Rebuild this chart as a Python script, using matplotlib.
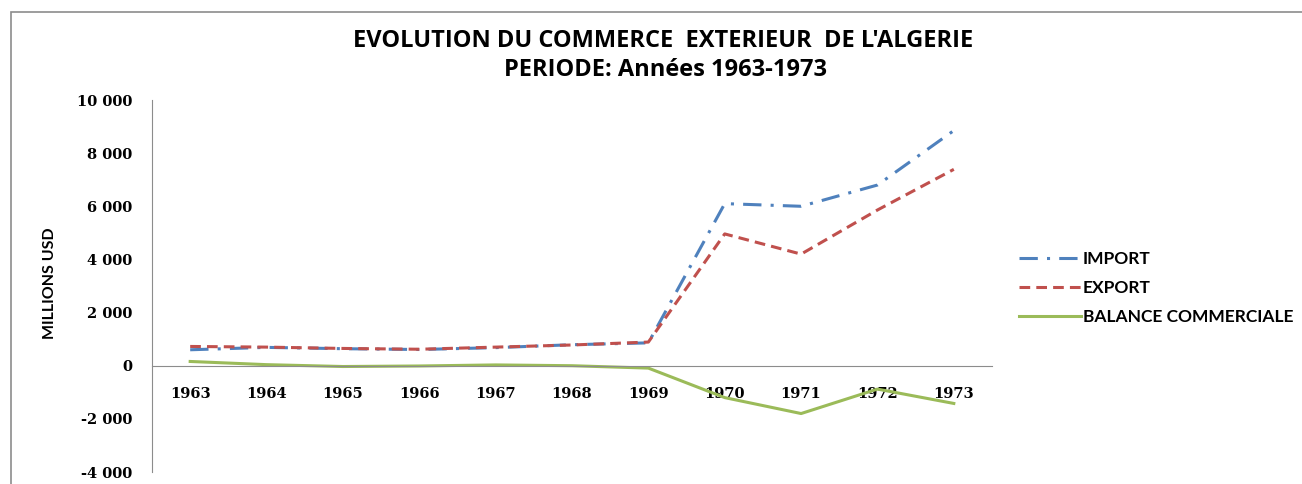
import matplotlib
matplotlib.use("Agg")
import matplotlib.pyplot as plt
from matplotlib.patches import Rectangle

# Data (millions USD)
years = ["1963", "1964", "1965", "1966", "1967", "1968", "1969", "1970", "1971", "1972", "1973"]
imports = [600, 690, 640, 610, 680, 790, 860, 6100, 6000, 6800, 8850]
exports = [725, 700, 650, 620, 700, 780, 890, 4960, 4200, 5860, 7390]
balance = [160, 40, -30, -10, 30, 0, -90, -1200, -1800, -880, -1420]

yticks = [-4000, -2000, 0, 2000, 4000, 6000, 8000, 10000]

fig = plt.figure(figsize=(13.02, 4.84), dpi=100)
fig.patch.set_facecolor("white")

# outer chart frame (only top/left edges visible in the reference)
fig.patches.append(Rectangle((11 / 1302, -0.1), 1.2, (484 - 12) / 484 + 0.1,
                             transform=fig.transFigure, fill=False,
                             edgecolor="#8c8c8c", linewidth=1.2))

ax = fig.add_axes([152 / 1302, 12 / 484, 840 / 1302, 372 / 484])

x = list(range(len(years)))
ax.plot(x, imports, color="#4F81BD", linewidth=2.2, linestyle=(0, (6, 3, 1, 3)), label="IMPORT")
ax.plot(x, exports, color="#C0504D", linewidth=2.2, linestyle=(0, (3.5, 2)), label="EXPORT")
ax.plot(x, balance, color="#9BBB59", linewidth=2.2, linestyle="-", label="BALANCE COMMERCIALE")

ax.set_xlim(-0.5, len(years) - 0.5)
ax.set_ylim(-4000, 10000)

for s in ["top", "right"]:
    ax.spines[s].set_visible(False)
ax.spines["bottom"].set_position(("data", 0))
ax.spines["bottom"].set_color("#8c8c8c")
ax.spines["left"].set_color("#8c8c8c")

ax.set_xticks(x)
ax.set_xticklabels(years, family="DejaVu Serif", fontweight="bold", fontsize=10.5)
ax.tick_params(axis="x", length=0, pad=15)

ax.set_yticks(yticks)
ax.set_yticklabels([f"{v:,}".replace(",", " ") for v in yticks],
                   family="DejaVu Serif", fontweight="bold", fontsize=10.5)
ax.tick_params(axis="y", length=0, pad=14)

fig.text(50 / 1302, 1 - 283 / 484, "MILLIONS USD", rotation=90, ha="center", va="center",
         family="Lato", fontweight="bold", fontsize=11.5)

fig.text(663 / 1302, 1 - 47 / 484, "EVOLUTION DU COMMERCE  EXTERIEUR  DE L'ALGERIE",
         ha="center", va="baseline", family="Open Sans", fontweight="bold", fontsize=17)
fig.text(666 / 1302, 1 - 76 / 484, "PERIODE: Années 1963-1973",
         ha="center", va="baseline", family="Open Sans", fontweight="bold", fontsize=17)

leg = ax.legend(loc="upper left", bbox_to_anchor=(1003 / 1302, 1 - 235 / 484),
                bbox_transform=fig.transFigure, frameon=False,
                prop={"family": "Lato", "weight": "bold", "size": 12.5},
                handlelength=3.6, handletextpad=0.1, labelspacing=0.75)

fig.savefig("out.png", dpi=100, facecolor="white")
